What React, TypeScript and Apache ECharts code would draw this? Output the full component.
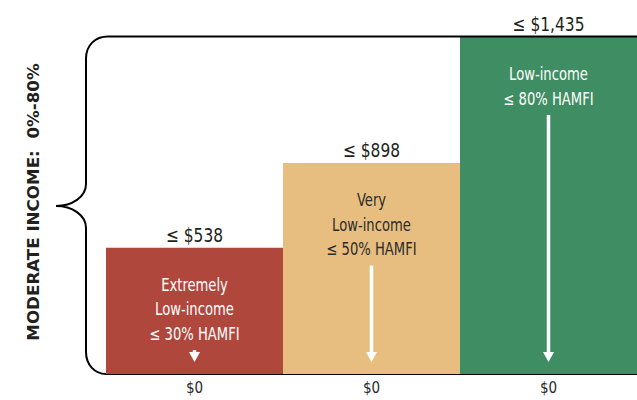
import { useEffect, useRef } from "react";
import * as echarts from "echarts";

// Monthly rent limits by income tier
const categories = ["Extremely Low-income", "Very Low-income", "Low-income"];
const rentLimits = [538, 898, 1435];
const tickLabels = ["$0", "$0", "$0"];
const innerLabels = [
  ["Extremely", "Low-income", "≤ 30% HAMFI"],
  ["Very", "Low-income", "≤ 50% HAMFI"],
  ["Low-income", "≤ 80% HAMFI"],
];
const sideTitle = "MODERATE INCOME:  0%-80%";

const barColors = ["#AF473D", "#E7BE7F", "#3F8D62"];
const innerTextColors = ["#ffffff", "#2b2b2b", "#ffffff"];

const FONT = '"DejaVu Sans Condensed", "DejaVu Sans", sans-serif';
const NARROW = 0.86; // horizontal squeeze for a condensed look
const W = 637;
const H = 400;
const GRID = { left: 106, right: -3, top: 37, bottom: 26 };
const LABEL_PAD = 25;
const LINE_H = 24.5;
const ARROW_GAP = 4;

function bracePath(): string {
  const yT = GRID.top - 0.5;
  const yB = H - GRID.bottom;
  const xV = 86;
  const xTip = 56;
  const yMid = 206;
  return [
    `M ${W} ${yT} L 108 ${yT}`,
    `C 95 ${yT} ${xV} ${yT + 9} ${xV} ${yT + 22}`,
    `L ${xV} ${yMid - 22}`,
    `C ${xV} ${yMid - 9} ${xV - 14} ${yMid} ${xTip} ${yMid}`,
    `C ${xV - 14} ${yMid} ${xV} ${yMid + 9} ${xV} ${yMid + 22}`,
    `L ${xV} ${yB - 22}`,
    `C ${xV} ${yB - 9} 95 ${yB} ${GRID.left} ${yB}`,
  ].join(" ");
}

export default function App() {
  const ref = useRef<HTMLDivElement>(null);

  useEffect(() => {
    if (!ref.current) return;
    echarts.graphic.registerShape("brace", echarts.graphic.extendPath(bracePath(), {}));
    const chart = echarts.init(ref.current, undefined, { renderer: "svg" });

    chart.setOption({
      animation: false,
      grid: GRID,
      xAxis: {
        type: "category",
        data: tickLabels,
        axisLine: { show: true, lineStyle: { color: "#000", width: 2 } },
        axisTick: { show: false },
        axisLabel: { color: "#2b2b2b", fontSize: 15, fontFamily: FONT, margin: 6 },
      },
      yAxis: {
        type: "value",
        min: 0,
        max: Math.max(...rentLimits),
        show: false,
        splitLine: { show: false },
      },
      series: [
        {
          name: "Rent limit",
          type: "bar",
          barCategoryGap: 0,
          data: rentLimits.map((v, i) => ({
            value: v,
            name: categories[i],
            itemStyle: { color: barColors[i] },
          })),
        },
        {
          name: "Tier labels",
          type: "custom",
          data: rentLimits.map((v, i) => [i, v]),
          z: 5,
          renderItem: (_params: any, api: any) => {
            const i = api.value(0) as number;
            const value = api.value(1) as number;
            const top = api.coord([i, value]);
            const base = api.coord([i, 0]);
            const x = top[0];
            const lines = innerLabels[i];
            const textTop = top[1] + LABEL_PAD;
            const arrowTop = textTop + lines.length * LINE_H + ARROW_GAP;
            const arrowTip = base[1] - 12;
            const headTop = arrowTip - 10;
            return {
              type: "group",
              children: [
                {
                  type: "text",
                  x,
                  y: top[1] - 3,
                  scaleX: NARROW,
                  style: {
                    text: `≤ $${value.toLocaleString("en-US")}`,
                    fill: "#231f20",
                    fontSize: 20,
                    fontFamily: FONT,
                    align: "center",
                    verticalAlign: "bottom",
                  },
                },
                {
                  type: "text",
                  x,
                  y: textTop,
                  scaleX: NARROW,
                  style: {
                    text: lines.join("\n"),
                    fill: innerTextColors[i],
                    fontSize: 17,
                    fontFamily: FONT,
                    align: "center",
                    verticalAlign: "top",
                    lineHeight: LINE_H,
                  },
                },
                {
                  type: "line",
                  shape: { x1: x, y1: arrowTop, x2: x, y2: headTop + 2 },
                  style: { stroke: "#ffffff", lineWidth: 3.5 },
                },
                {
                  type: "polygon",
                  shape: { points: [[x - 5.5, headTop], [x + 5.5, headTop], [x, arrowTip]] },
                  style: { fill: "#ffffff" },
                },
              ],
            };
          },
        },
      ],
      graphic: [
        {
          type: "brace",
          x: 0,
          y: 0,
          style: { fill: "none", stroke: "#000", lineWidth: 2 },
          z: 10,
        },
        {
          type: "text",
          x: 33,
          y: 202,
          rotation: Math.PI / 2,
          scaleX: 1.12,
          style: {
            text: sideTitle,
            fill: "#231f20",
            fontSize: 16.6,
            fontWeight: "bold",
            fontFamily: FONT,
            align: "center",
            verticalAlign: "middle",
          },
        },
      ],
    });

    return () => chart.dispose();
  }, []);

  return (
    <div
      ref={ref}
      style={{ position: "absolute", left: 0, top: 0, width: W, height: H }}
    />
  );
}
